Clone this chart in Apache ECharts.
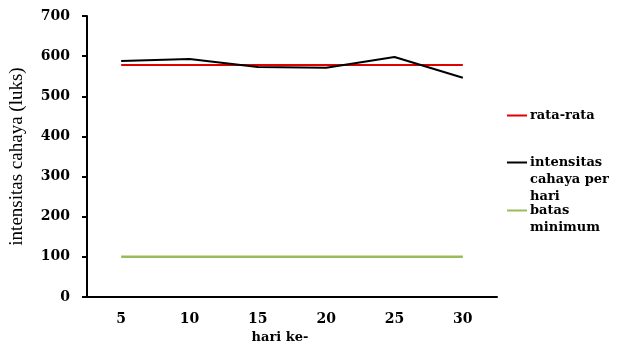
<!DOCTYPE html>
<html>
<head>
<meta charset="utf-8">
<script src="https://cdn.jsdelivr.net/npm/echarts@6/dist/echarts.min.js"></script>
<style>
  html, body { margin: 0; padding: 0; background: #fff; }
  #chart { width: 624px; height: 345px; }
</style>
</head>
<body>
<div id="chart"></div>
<script>
// data
const days = ['5', '10', '15', '20', '25', '30'];
const intensitasHarian = [588, 593, 573, 571, 598, 546];
const rataRata = [578, 578, 578, 578, 578, 578];
const batasMinimum = [100, 100, 100, 100, 100, 100];

const serifBold = { fontFamily: 'DejaVu Serif', fontWeight: 'bold', color: '#000' };

const chart = echarts.init(document.getElementById('chart'));

// one legend per item; blank lines in front keep the icon level with the first text line
const legendAt = (name, top) => {
  const extra = name.split('\n').length - 1;
  return {
    data: [name],
    orient: 'vertical',
    left: 507,
    top: top,
    padding: 0,
    icon: 'rect',
    itemWidth: 20,
    itemHeight: 2,
    formatter: n => '\n'.repeat(extra) + n,
    textStyle: Object.assign({}, serifBold, {
      fontSize: 13,
      lineHeight: 17,
      padding: [0, 0, 0, -2]
    })
  };
};

chart.setOption({
  animation: false,
  grid: { left: 87, right: 127, top: 16, bottom: 48, outerBoundsMode: 'none', containLabel: false },
  legend: [
    legendAt('rata-rata', 107),
    legendAt('intensitas\ncahaya per\nhari', 120),
    legendAt('batas\nminimum', 185)
  ],
  xAxis: {
    type: 'category',
    data: days,
    name: 'hari ke-',
    nameLocation: 'middle',
    nameGap: 32,
    nameTextStyle: Object.assign({}, serifBold, { fontSize: 13, padding: [0, 24, 0, 0] }),
    axisLine: { lineStyle: { color: '#000', width: 2 } },
    axisTick: { show: false },
    axisLabel: Object.assign({}, serifBold, { fontSize: 14, margin: 15 }),
    splitLine: { show: false }
  },
  yAxis: {
    type: 'value',
    min: 0,
    max: 700,
    interval: 100,
    name: 'intensitas cahaya (luks)',
    nameLocation: 'middle',
    nameGap: 60,
    nameTextStyle: { fontFamily: 'Liberation Serif', fontSize: 19, color: '#000' },
    axisLine: { show: true, lineStyle: { color: '#000', width: 2 } },
    axisTick: { show: true, length: 5, lineStyle: { color: '#000', width: 2 } },
    axisLabel: Object.assign({}, serifBold, { fontSize: 14, margin: 17 }),
    splitLine: { show: false }
  },
  series: [
    {
      name: 'rata-rata',
      type: 'line',
      data: rataRata,
      symbol: 'none',
      lineStyle: { color: '#e00000', width: 2 },
      itemStyle: { color: '#e00000' }
    },
    {
      name: 'intensitas\ncahaya per\nhari',
      type: 'line',
      data: intensitasHarian,
      symbol: 'none',
      lineStyle: { color: '#000', width: 2 },
      itemStyle: { color: '#000' }
    },
    {
      name: 'batas\nminimum',
      type: 'line',
      data: batasMinimum,
      symbol: 'none',
      lineStyle: { color: '#9bbb59', width: 2.5 },
      itemStyle: { color: '#9bbb59' }
    }
  ]
});
</script>
</body>
</html>
